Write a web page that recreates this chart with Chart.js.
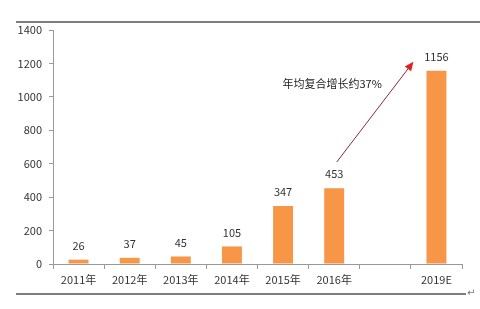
<!DOCTYPE html>
<html><head><meta charset="utf-8">
<script src="https://cdn.jsdelivr.net/npm/chart.js@4/dist/chart.umd.min.js"></script>
<style>html,body{margin:0;padding:0;background:#fff}canvas{display:block}</style>
</head><body>
<canvas id="c" width="480" height="309"></canvas>
<script>
const categories = ["2011年","2012年","2013年","2014年","2015年","2016年","","2019E"];
const values = [26, 37, 45, 105, 347, 453, null, 1156];
const yTicks = [0, 200, 400, 600, 800, 1000, 1200, 1400];
const annotationText = "年均复合增长约37%";
// arrow in data terms: [category index, value]
const arrowFrom = [5.05, 610];
const arrowTo = [6.55, 1210];
const textAt = [4.96, 1080];

const FONT = "'Noto Sans CJK SC', 'DejaVu Sans', sans-serif";

const deco = {
  id: 'deco',
  afterDraw(chart) {
    const ctx = chart.ctx, x = chart.scales.x, y = chart.scales.y;
    ctx.save();
    // page rules
    ctx.strokeStyle = '#555'; ctx.lineWidth = 1.5;
    ctx.beginPath(); ctx.moveTo(16, 22); ctx.lineTo(480, 22); ctx.stroke();
    ctx.beginPath(); ctx.moveTo(16, 294); ctx.lineTo(466, 294); ctx.stroke();
    ctx.fillStyle = '#777'; ctx.font = '10px ' + FONT; ctx.textBaseline = 'middle';
    ctx.fillText('↵', 467, 292);
    // data labels
    ctx.fillStyle = '#333'; ctx.font = '11px ' + FONT; ctx.textAlign = 'center'; ctx.textBaseline = 'middle';
    const meta = chart.getDatasetMeta(0);
    meta.data.forEach((bar, i) => {
      if (values[i] == null) return;
      ctx.fillText(String(values[i]), bar.x, bar.y - 14);
    });
    // arrow
    const catPx = v => {
      const a = x.getPixelForValue(Math.floor(v)), b = x.getPixelForValue(Math.floor(v) + 1);
      return a + (b - a) * (v - Math.floor(v));
    };
    const x1 = catPx(arrowFrom[0]), y1 = y.getPixelForValue(arrowFrom[1]);
    const x2 = catPx(arrowTo[0]), y2 = y.getPixelForValue(arrowTo[1]);
    ctx.strokeStyle = '#8B2A3A'; ctx.lineWidth = 1;
    const ang = Math.atan2(y2 - y1, x2 - x1);
    ctx.beginPath(); ctx.moveTo(x1, y1); ctx.lineTo(x2 - 6 * Math.cos(ang), y2 - 6 * Math.sin(ang)); ctx.stroke();
    ctx.fillStyle = '#E0201C';
    ctx.beginPath();
    ctx.moveTo(x2, y2);
    ctx.lineTo(x2 - 9 * Math.cos(ang) + 4 * Math.sin(ang), y2 - 9 * Math.sin(ang) - 4 * Math.cos(ang));
    ctx.lineTo(x2 - 9 * Math.cos(ang) - 4 * Math.sin(ang), y2 - 9 * Math.sin(ang) + 4 * Math.cos(ang));
    ctx.closePath(); ctx.fill();
    // annotation text
    ctx.fillStyle = '#222'; ctx.font = '11px ' + FONT;
    ctx.fillText(annotationText, catPx(textAt[0]), y.getPixelForValue(textAt[1]));
    ctx.restore();
  }
};

new Chart(document.getElementById('c'), {
  type: 'bar',
  data: { labels: categories, datasets: [{ data: values, backgroundColor: '#F79646', borderWidth: 0, categoryPercentage: 1, barPercentage: 0.39 }] },
  options: {
    responsive: false, animation: false, devicePixelRatio: 1,
    layout: { padding: { left: 0, right: 18, top: 30, bottom: 0 } },
    plugins: { legend: { display: false }, tooltip: { enabled: false } },
    scales: {
      x: {
        grid: { display: true, drawOnChartArea: false, drawTicks: true, tickLength: 5, color: '#999', offset: true },
        border: { display: true, color: '#999' },
        ticks: { color: '#333', font: { size: 11, family: FONT }, padding: 4, maxRotation: 0, autoSkip: false },
        afterFit(s) { s.height = 309 - 264; }
      },
      y: {
        min: 0, max: 1400,
        afterBuildTicks(s) { s.ticks = yTicks.map(v => ({ value: v })); },
        grid: { display: true, drawOnChartArea: false, drawTicks: true, tickLength: 4, color: '#999' },
        border: { display: true, color: '#999' },
        ticks: { color: '#333', font: { size: 11, family: FONT }, padding: 7, callback: v => String(v) },
        afterFit(s) { s.width = 53; }
      }
    }
  },
  plugins: [deco]
});
</script>
</body></html>
